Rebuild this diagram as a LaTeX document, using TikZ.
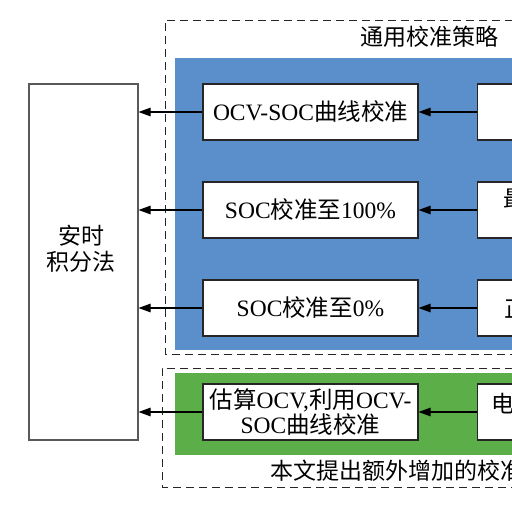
\documentclass[tikz,border=0pt]{standalone}
\usepackage{fontspec}
\setmainfont{Liberation Serif}
\newfontfamily\cjk{Noto Sans CJK SC}
\usetikzlibrary{arrows.meta}
\definecolor{bluebg}{RGB}{91,143,203}
\definecolor{greenbg}{RGB}{91,174,72}
\tikzset{
  box/.style={draw=black!85, line width=1.1pt, fill=white, minimum width=215pt, minimum height=56pt, inner sep=0pt, align=center, font=\fontsize{23.5}{24}\selectfont},
  rbox/.style={draw=black!85, line width=1.1pt, fill=white, minimum width=120pt, minimum height=56pt, inner sep=0pt},
  arr/.style={line width=1.1pt, -{Triangle[length=12pt,width=8.5pt]}},
  dashbox/.style={draw=black!85, line width=1pt, dash pattern=on 8pt off 5pt},
  lbl/.style={font=\fontsize{23}{24}\selectfont\cjk, inner sep=0pt}
}
\begin{document}
\begin{tikzpicture}[x=1pt,y=-1pt]
\useasboundingbox (0,0) rectangle (512,512);
\fill[white] (0,0) rectangle (512,512);
\clip (0,0) rectangle (512,512);
% dashed groups
\draw[dashbox] (630,20) -- (165,20) -- (165,354) -- (630,354);
\draw[dashbox] (630,368) -- (162,368) -- (162,487) -- (630,487);
% coloured panels
\fill[bluebg] (175,58) rectangle (630,350);
\fill[greenbg] (175,373) rectangle (630,455);
% labels of groups
\node[lbl, anchor=west] (t1) at (360,37) {通用校准策略};
\node[lbl, anchor=west] (t2) at (270,471) {本文提出额外增加的校准策略};
% left box
\node[draw=black!65, line width=1.1pt, fill=white, minimum width=109pt, minimum height=356pt, inner sep=0pt] (ah) at (83.5,262) {};
\node[font=\fontsize{23}{26}\selectfont\cjk, align=center] (ahtext) at (81,249) {安时\\积分法};
% middle boxes
\node[box] (m1) at (310.5,112) {OCV-SOC{\cjk 曲线校准}};
\node[box] (m2) at (310.5,210) {SOC{\cjk 校准至}100\%};
\node[box] (m3) at (310.5,308) {SOC{\cjk 校准至}0\%};
\node[box, font=\fontsize{23.5}{25}\selectfont] (m4) at (310.5,412) {{\cjk 估算}OCV,{\cjk 利用}OCV-\\SOC{\cjk 曲线校准}};
% right boxes (cut by the edge)
\node[rbox, anchor=west] (r1) at (477,112) {};
\node[rbox, anchor=west] (r2) at (477,210) {};
\node[rbox, anchor=west] (r3) at (477,308) {};
\node[rbox, anchor=west] (r4) at (477,412) {};
\node[lbl, anchor=west] (r2t) at (503,199) {最高电压};
\node[lbl, anchor=west] (r3t) at (504,309) {正常放电};
\node[lbl, anchor=west] (r4t) at (491,404) {电池静置};
% arrows
\draw[arr] (r1.west) -- (m1.east);
\draw[arr] (r2.west) -- (m2.east);
\draw[arr] (r3.west) -- (m3.east);
\draw[arr] (r4.west) -- (m4.east);
\draw[arr] (m1.west) -- (m1.west -| ah.east);
\draw[arr] (m2.west) -- (m2.west -| ah.east);
\draw[arr] (m3.west) -- (m3.west -| ah.east);
\draw[arr] (m4.west) -- (m4.west -| ah.east);
\end{tikzpicture}
\end{document}
